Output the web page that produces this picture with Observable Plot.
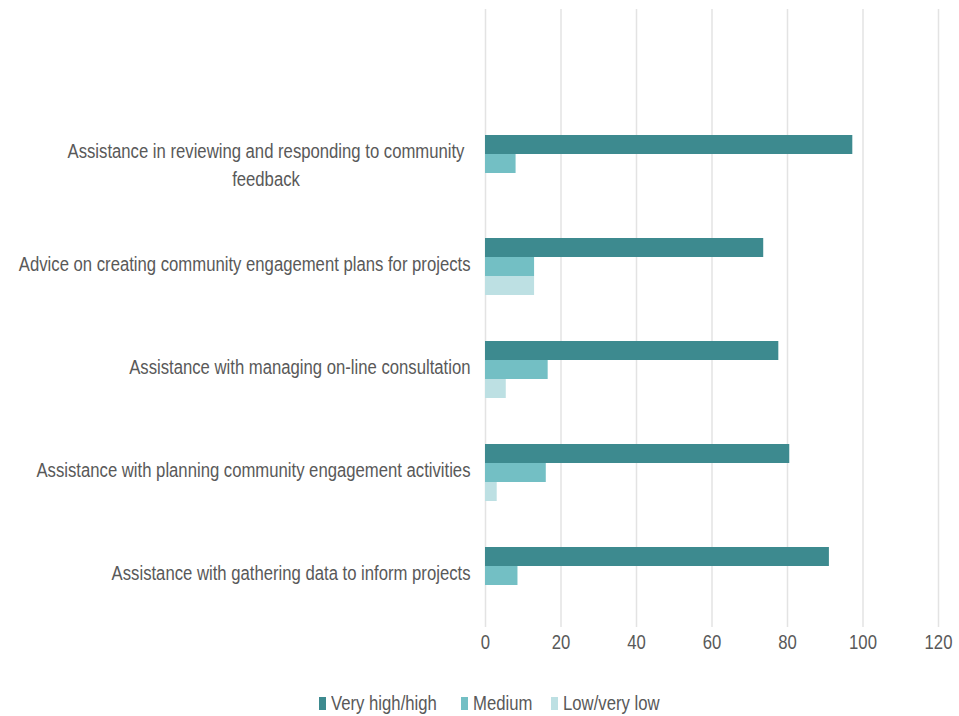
<!DOCTYPE html>
<html>
<head>
<meta charset="utf-8">
<script src="https://cdn.jsdelivr.net/npm/d3@7"></script>
<script src="https://cdn.jsdelivr.net/npm/@observablehq/plot@0.6"></script>
<style>
  html, body { margin: 0; padding: 0; background: #fff; }
  body { width: 959px; height: 716px; overflow: hidden; font-family: "Liberation Sans", Arial, sans-serif; }
  #legend { height: 30px; margin-top: 8px; position: relative; font-size: 20px; color: #595959; }
  .item { position: absolute; top: 0; height: 30px; display: flex; align-items: center; }
  .sw { width: 7px; height: 13px; margin-right: 5px; flex: none; }
  .lt { display: inline-block; transform: scaleX(0.835); transform-origin: left center; white-space: nowrap; }
</style>
</head>
<body>
<div id="chart"></div>
<div id="legend"></div>
<script>
const categories = [
  "Assistance in reviewing and responding to community feedback",
  "Advice on creating community engagement plans for projects",
  "Assistance with managing on-line consultation",
  "Assistance with planning community engagement activities",
  "Assistance with gathering data to inform projects"
];
const series = ["Very high/high", "Medium", "Low/very low"];
const colors = ["#3d8a8f", "#73bfc4", "#bde0e3"];
const veryHigh = [97.3, 73.7, 77.7, 80.6, 91.1];
const medium = [8.1, 13.0, 16.6, 16.1, 8.6];
const low = [0, 13.0, 5.5, 3.1, 0];
const xTicks = [0, 20, 40, 60, 80, 100, 120];

const topSpacer = " ";
const wrapped = categories[0];
const wrappedText = "Assistance in reviewing and responding to community\nfeedback";
const narrow = 0.835;

const rows = [{cat: topSpacer, series: series[0], value: 0}];
categories.forEach((c, i) => {
  [veryHigh, medium, low].forEach((arr, j) => {
    rows.push({cat: c, series: series[j], value: arr[i]});
  });
});

const chart = Plot.plot({
  width: 959,
  height: 680,
  marginLeft: 485,
  marginRight: 21,
  marginTop: 8,
  marginBottom: 53,
  style: {fontFamily: '"Liberation Sans", Arial, sans-serif', fontSize: "20px", color: "#595959", background: "#fff"},
  x: {domain: [0, 120], ticks: xTicks, tickSize: 0, tickPadding: 21, label: null, grid: false},
  fy: {domain: [topSpacer, ...categories], padding: 0, label: null},
  y: {domain: series, axis: null, paddingInner: 0, paddingOuter: 1.12},
  color: {domain: series, range: colors},
  marks: [
    Plot.gridX(xTicks, {stroke: "#e3e3e3", strokeOpacity: 1, strokeWidth: 1.5}),
    Plot.barX(rows, {fy: "cat", y: "series", x: "value", fill: "series"}),
    Plot.axisFy({anchor: "left", ticks: categories.slice(1), tickSize: 0, tickPadding: 15, label: null, dy: 4, fill: "#595959"}),
    Plot.axisFy({anchor: "left", ticks: [wrapped], tickSize: 0, tickPadding: 15, label: null, textAnchor: "middle", dx: -204.5, dy: -1, lineHeight: 1.4, tickFormat: () => wrappedText, fill: "#595959"})
  ]
});

// Narrow the glyphs horizontally (Arial Narrow look) around each text's anchor.
chart.querySelectorAll("text").forEach(t => {
  let tr = t.getAttribute("transform") || "";
  if (t.hasAttribute("x") || t.hasAttribute("y")) {
    const x = +t.getAttribute("x") || 0, y = +t.getAttribute("y") || 0;
    t.removeAttribute("x"); t.removeAttribute("y");
    tr += ` translate(${x},${y})`;
  }
  t.setAttribute("transform", `${tr} scale(${narrow},1)`);
});
document.getElementById("chart").appendChild(chart);

const legend = document.getElementById("legend");
const lefts = [319, 460.7, 550.7];
series.forEach((s, i) => {
  const it = document.createElement("div");
  it.className = "item";
  it.style.left = lefts[i] + "px";
  const sw = document.createElement("span");
  sw.className = "sw";
  sw.style.background = colors[i];
  const t = document.createElement("span");
  t.className = "lt";
  t.textContent = s;
  it.appendChild(sw);
  it.appendChild(t);
  legend.appendChild(it);
});
</script>
</body>
</html>
